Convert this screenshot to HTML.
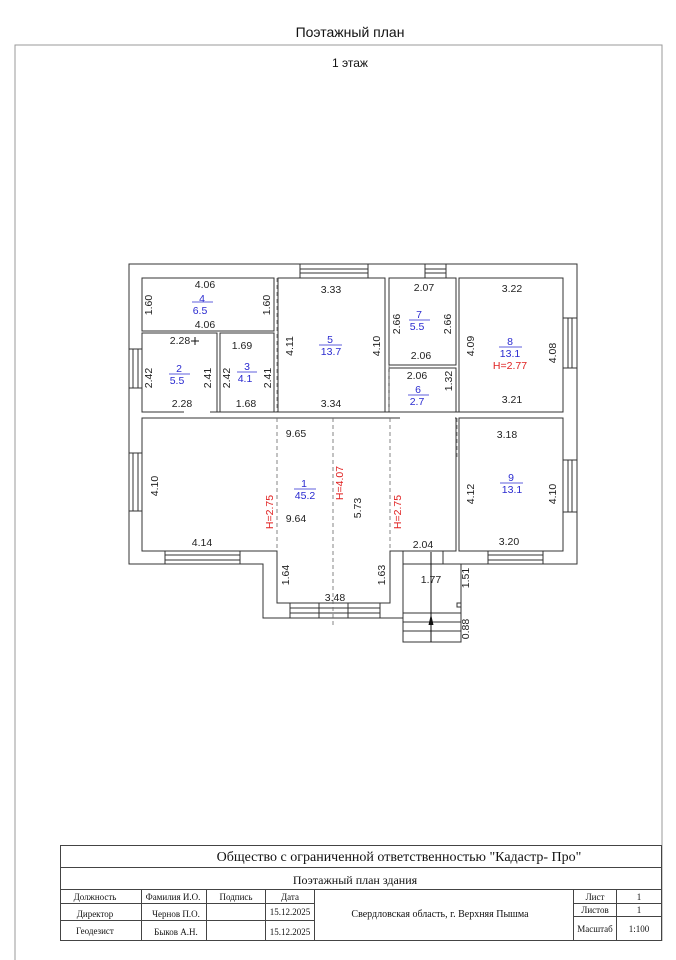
<!DOCTYPE html>
<html><head><meta charset="utf-8"><style>
html,body{margin:0;padding:0;background:#fff;}
svg{display:block;}
.d{font-family:"Liberation Sans",sans-serif;font-size:10.5px;fill:#222;}
.b{font-family:"Liberation Sans",sans-serif;font-size:10.5px;fill:#2a2ad0;}
.r{font-family:"Liberation Sans",sans-serif;font-size:10.5px;fill:#e02020;}
.t{font-family:"Liberation Serif",serif;fill:#111;}
</style></head><body>
<svg width="676" height="960" viewBox="0 0 676 960" xmlns="http://www.w3.org/2000/svg">
<rect width="676" height="960" fill="#fff"/>
<text x="350" y="37" text-anchor="middle" font-family="Liberation Sans,sans-serif" font-size="14" fill="#111">Поэтажный план</text>
<polyline points="15,960 15,45 662,45 662,941" fill="none" stroke="#999" stroke-width="1"/>
<text x="350" y="67" text-anchor="middle" font-family="Liberation Sans,sans-serif" font-size="12" fill="#111">1 этаж</text>

<g fill="none" stroke="#333" stroke-width="1">
<!-- outer walls -->
<polygon points="129,264 577,264 577,564 461,564 461,642 403,642 403,618 263,618 263,564 129,564" fill="#fff"/>
<!-- rooms -->
<rect x="142" y="278" width="132" height="53"/>
<rect x="142" y="333" width="75" height="79"/>
<rect x="220" y="333" width="54" height="79"/>
<rect x="278" y="278" width="107" height="134"/>
<rect x="389" y="278" width="67" height="87"/>
<rect x="389" y="368" width="67" height="44"/>
<rect x="459" y="278" width="104" height="134"/>
<rect x="459" y="418" width="104" height="133"/>
<polygon points="142,418 456,418 456,551 390,551 390,603 277,603 277,551 142,551"/>
<line x1="142" y1="412" x2="563" y2="412"/>
<!-- porch -->
<rect x="403" y="564" width="58" height="78"/>
<line x1="403" y1="613" x2="461" y2="613"/><line x1="403" y1="622" x2="461" y2="622"/><line x1="403" y1="631" x2="461" y2="631"/>
<line x1="403" y1="551" x2="403" y2="564"/><line x1="443" y1="551" x2="443" y2="564"/>
<rect x="457" y="603" width="4" height="4"/>
<!-- windows -->
<rect x="300" y="264" width="68" height="14"/><line x1="300" y1="269" x2="368" y2="269"/><line x1="300" y1="273" x2="368" y2="273"/>
<rect x="425" y="264" width="21" height="14"/><line x1="425" y1="269" x2="446" y2="269"/><line x1="425" y1="273" x2="446" y2="273"/>
<rect x="129" y="349" width="13" height="39"/><line x1="133" y1="349" x2="133" y2="388"/><line x1="138" y1="349" x2="138" y2="388"/>
<rect x="129" y="453" width="13" height="58"/><line x1="133" y1="453" x2="133" y2="511"/><line x1="138" y1="453" x2="138" y2="511"/>
<rect x="563" y="318" width="14" height="50"/><line x1="568" y1="318" x2="568" y2="368"/><line x1="572" y1="318" x2="572" y2="368"/>
<rect x="563" y="460" width="14" height="52"/><line x1="568" y1="460" x2="568" y2="512"/><line x1="572" y1="460" x2="572" y2="512"/>
<rect x="165" y="551" width="75" height="13"/><line x1="165" y1="555" x2="240" y2="555"/><line x1="165" y1="560" x2="240" y2="560"/>
<rect x="488" y="551" width="55" height="13"/><line x1="488" y1="555" x2="543" y2="555"/><line x1="488" y1="560" x2="543" y2="560"/>
<rect x="290" y="603" width="90" height="15"/><line x1="290" y1="608" x2="380" y2="608"/><line x1="290" y1="613" x2="380" y2="613"/>
<line x1="319" y1="603" x2="319" y2="618"/><line x1="348" y1="603" x2="348" y2="618"/>
</g>
<!-- doors gaps -->
<g stroke="#fff" stroke-width="3">
<line x1="184" y1="412" x2="210" y2="412"/>
<line x1="400" y1="418" x2="455" y2="418"/>
</g>
<g stroke="#666" stroke-width="0.8" stroke-dasharray="4,3" fill="none">
<line x1="277" y1="278" x2="277" y2="412"/>
<line x1="277" y1="418" x2="277" y2="551"/>
<line x1="333" y1="418" x2="333" y2="625"/>
<line x1="390" y1="418" x2="390" y2="551"/>
<line x1="389" y1="365" x2="389" y2="412"/>
<line x1="457" y1="418" x2="457" y2="460"/>
</g>
<line x1="431" y1="552" x2="431" y2="642" stroke="#111" stroke-width="1"/>
<polygon points="431,614 428.5,625 433.5,625" fill="#111"/>
<line x1="191" y1="341" x2="199" y2="341" stroke="#111"/><line x1="195" y1="337" x2="195" y2="345" stroke="#111"/>

<!-- dimension labels -->
<g class="d" text-anchor="middle">
<text x="205" y="288">4.06</text><text x="205" y="328">4.06</text>
<text x="180" y="344">2.28</text><text x="182" y="407">2.28</text>
<text x="242" y="349">1.69</text><text x="246" y="407">1.68</text>
<text x="331" y="293">3.33</text><text x="331" y="407">3.34</text>
<text x="424" y="291">2.07</text><text x="421" y="359">2.06</text><text x="417" y="379">2.06</text>
<text x="512" y="292">3.22</text><text x="512" y="403">3.21</text>
<text x="296" y="437">9.65</text><text x="296" y="522">9.64</text>
<text x="507" y="438">3.18</text><text x="509" y="545">3.20</text>
<text x="202" y="546">4.14</text><text x="423" y="548">2.04</text>
<text x="431" y="583">1.77</text><text x="335" y="601">3.48</text>
</g>
<g class="d" text-anchor="middle">
<text transform="translate(152,305) rotate(-90)">1.60</text>
<text transform="translate(270,305) rotate(-90)">1.60</text>
<text transform="translate(152,378) rotate(-90)">2.42</text>
<text transform="translate(211,378) rotate(-90)">2.41</text>
<text transform="translate(230,378) rotate(-90)">2.42</text>
<text transform="translate(271,378) rotate(-90)">2.41</text>
<text transform="translate(293,346) rotate(-90)">4.11</text>
<text transform="translate(380,346) rotate(-90)">4.10</text>
<text transform="translate(400,324) rotate(-90)">2.66</text>
<text transform="translate(451,324) rotate(-90)">2.66</text>
<text transform="translate(452,381) rotate(-90)">1.32</text>
<text transform="translate(474,346) rotate(-90)">4.09</text>
<text transform="translate(556,353) rotate(-90)">4.08</text>
<text transform="translate(158,486) rotate(-90)">4.10</text>
<text transform="translate(361,508) rotate(-90)">5.73</text>
<text transform="translate(474,494) rotate(-90)">4.12</text>
<text transform="translate(556,494) rotate(-90)">4.10</text>
<text transform="translate(289,575) rotate(-90)">1.64</text>
<text transform="translate(385,575) rotate(-90)">1.63</text>
<text transform="translate(469,578) rotate(-90)">1.51</text>
<text transform="translate(469,629) rotate(-90)">0.88</text>
</g>
<g class="r" text-anchor="middle">
<text transform="translate(273,512) rotate(-90)">H=2.75</text>
<text transform="translate(343,483) rotate(-90)">H=4.07</text>
<text transform="translate(401,512) rotate(-90)">H=2.75</text>
<text x="510" y="369">H=2.77</text>
</g>
<g class="b" text-anchor="middle">
<text x="202" y="302">4</text><text x="200" y="314">6.5</text>
<text x="179" y="372">2</text><text x="177" y="384">5.5</text>
<text x="247" y="370">3</text><text x="245" y="382">4.1</text>
<text x="330" y="343">5</text><text x="331" y="355">13.7</text>
<text x="419" y="318">7</text><text x="417" y="330">5.5</text>
<text x="418" y="393">6</text><text x="417" y="405">2.7</text>
<text x="510" y="345">8</text><text x="510" y="357">13.1</text>
<text x="304" y="487">1</text><text x="305" y="499">45.2</text>
<text x="511" y="481">9</text><text x="512" y="493">13.1</text>
</g>
<g stroke="#2a2ad0" stroke-width="0.8">
<line x1="192" y1="302" x2="213" y2="302"/><line x1="169" y1="374" x2="190" y2="374"/>
<line x1="237" y1="372" x2="257" y2="372"/><line x1="319" y1="345" x2="342" y2="345"/>
<line x1="409" y1="320" x2="430" y2="320"/><line x1="408" y1="395" x2="429" y2="395"/>
<line x1="499" y1="347" x2="522" y2="347"/><line x1="294" y1="489" x2="316" y2="489"/>
<line x1="500" y1="483" x2="523" y2="483"/>
</g>

<!-- title block -->
<g stroke="#444" stroke-width="1" fill="none">
<rect x="60.5" y="845.5" width="601" height="95"/>
<line x1="60" y1="867.5" x2="662" y2="867.5"/>
<line x1="60" y1="889.5" x2="662" y2="889.5"/>
<line x1="60" y1="903.5" x2="314" y2="903.5"/>
<line x1="60" y1="920.5" x2="314" y2="920.5"/>
<line x1="573" y1="903.5" x2="662" y2="903.5"/>
<line x1="573" y1="916.5" x2="662" y2="916.5"/>
<line x1="141.5" y1="889" x2="141.5" y2="941"/>
<line x1="206.5" y1="889" x2="206.5" y2="941"/>
<line x1="265.5" y1="889" x2="265.5" y2="941"/>
<line x1="314.5" y1="889" x2="314.5" y2="941"/>
<line x1="573.5" y1="889" x2="573.5" y2="941"/>
<line x1="616.5" y1="889" x2="616.5" y2="941"/>
</g>
<g class="t" text-anchor="middle">
<text x="399" y="861" font-size="14">Общество с ограниченной ответственностью "Кадастр- Про"</text>
<text x="355" y="884" font-size="12">Поэтажный план здания</text>
<text x="95" y="900" font-size="9">Должность</text>
<text x="173" y="900" font-size="9">Фамилия И.О.</text>
<text x="236" y="900" font-size="9">Подпись</text>
<text x="290" y="900" font-size="9">Дата</text>
<text x="95" y="917" font-size="9">Директор</text>
<text x="176" y="917" font-size="9">Чернов П.О.</text>
<text x="290" y="915" font-size="9">15.12.2025</text>
<text x="95" y="934" font-size="9">Геодезист</text>
<text x="176" y="935" font-size="9">Быков А.Н.</text>
<text x="290" y="935" font-size="9">15.12.2025</text>
<text x="440" y="917" font-size="10">Свердловская область, г. Верхняя Пышма</text>
<text x="595" y="900" font-size="9">Лист</text>
<text x="639" y="900" font-size="9">1</text>
<text x="595" y="913" font-size="9">Листов</text>
<text x="639" y="913" font-size="9">1</text>
<text x="595" y="932" font-size="9">Масштаб</text>
<text x="639" y="932" font-size="9">1:100</text>
</g>
</svg>
</body></html>
